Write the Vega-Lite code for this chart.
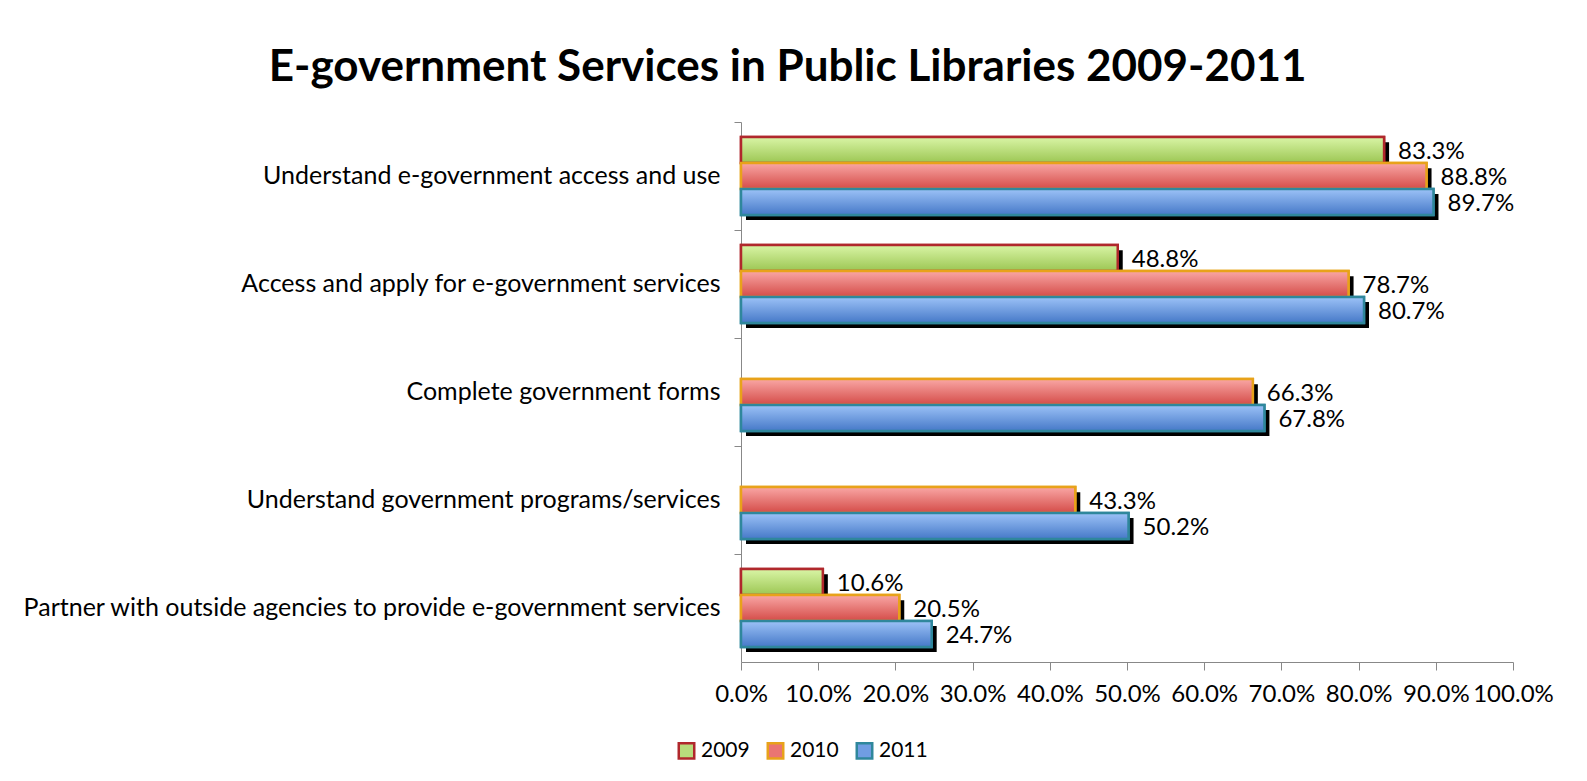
{
  "$schema": "https://vega.github.io/schema/vega-lite/v6.json",
  "autosize": {"type": "none"},
  "padding": {"left": 741, "top": 122, "right": 74, "bottom": 119},
  "width": 772,
  "height": 540,
  "background": "white",
  "title": {
    "text": "E-government Services in Public Libraries 2009-2011",
    "font": "Lato",
    "fontSize": 44,
    "fontWeight": "bold",
    "color": "#000000",
    "anchor": "middle",
    "frame": "bounds",
    "offset": 32
  },
  "data": {
    "values": [
      {"task": "Understand e-government access and use", "year": "2009", "pct": 0.833},
      {"task": "Understand e-government access and use", "year": "2010", "pct": 0.888},
      {"task": "Understand e-government access and use", "year": "2011", "pct": 0.897},
      {"task": "Access and apply for e-government services", "year": "2009", "pct": 0.488},
      {"task": "Access and apply for e-government services", "year": "2010", "pct": 0.787},
      {"task": "Access and apply for e-government services", "year": "2011", "pct": 0.807},
      {"task": "Complete government forms", "year": "2010", "pct": 0.663},
      {"task": "Complete government forms", "year": "2011", "pct": 0.678},
      {"task": "Understand government programs/services", "year": "2010", "pct": 0.433},
      {"task": "Understand government programs/services", "year": "2011", "pct": 0.502},
      {"task": "Partner with outside agencies to provide e-government services", "year": "2009", "pct": 0.106},
      {"task": "Partner with outside agencies to provide e-government services", "year": "2010", "pct": 0.205},
      {"task": "Partner with outside agencies to provide e-government services", "year": "2011", "pct": 0.247}
    ]
  },
  "encoding": {
    "y": {
      "field": "task",
      "type": "nominal",
      "sort": null,
      "title": null,
      "scale": {"paddingInner": 0, "paddingOuter": 0},
      "axis": {
        "bandPosition": 0,
        "labelFont": "Lato",
        "labelFontSize": 25,
        "labelColor": "#000000",
        "labelLimit": 900,
        "labelPadding": 14,
        "tickSize": 7,
        "tickColor": "#888888",
        "domainColor": "#888888",
        "labelBaseline": "middle"
      }
    },
    "x": {
      "field": "pct",
      "type": "quantitative",
      "title": null,
      "scale": {"domain": [0, 1], "nice": false},
      "axis": {
        "format": ".1%",
        "values": [0, 0.1, 0.2, 0.3, 0.4, 0.5, 0.6, 0.7, 0.8, 0.9, 1.0],
        "grid": false,
        "labelFont": "Lato",
        "labelFontSize": 24,
        "labelColor": "#000000",
        "labelPadding": 12,
        "tickSize": 8,
        "tickColor": "#888888",
        "domainColor": "#888888",
        "labelFlush": false,
        "labelOverlap": false
      }
    }
  },
  "layer": [
    {
      "mark": {"type": "bar", "color": "#000000", "xOffset": 5},
      "encoding": {
        "yOffset": {
          "field": "year",
          "type": "nominal",
          "scale": {"domain": ["2009", "2010", "2011"], "paddingInner": 0, "paddingOuter": 0.58, "align": 0.67}
        }
      }
    },
    {
      "layer": [
        {
          "mark": {"type": "bar", "strokeWidth": 2.5},
          "encoding": {
            "fill": {
              "field": "year",
              "type": "nominal",
              "title": null,
              "scale": {"domain": ["2009", "2010", "2011"], "range": ["#b8dc7c", "#ea7572", "#709de2"]},
              "legend": {
                "orient": "none",
                "direction": "horizontal",
                "legendX": -65,
                "legendY": 618,
                "symbolType": "square",
                "symbolSize": 240,
                "symbolStrokeWidth": 2.5,
                "symbolOpacity": 1,
                "labelFont": "Lato",
                "labelFontSize": 21,
                "labelColor": "#000000",
                "columnPadding": 12,
                "labelOffset": 4
              }
            },
            "stroke": {
              "field": "year",
              "type": "nominal",
              "title": null,
              "scale": {"domain": ["2009", "2010", "2011"], "range": ["#b0282c", "#e8a21a", "#2f879c"]}
            }
          }
        },
        {
          "mark": {"type": "bar", "strokeWidth": 2.5},
          "encoding": {
            "fill": {
              "condition": [
                {"test": "datum.year === '2009'", "value": {"gradient": "linear", "x1": 0, "y1": 0, "x2": 0, "y2": 1, "stops": [{"offset": 0, "color": "#d9f5a6"}, {"offset": 1, "color": "#9cc653"}]}},
                {"test": "datum.year === '2010'", "value": {"gradient": "linear", "x1": 0, "y1": 0, "x2": 0, "y2": 1, "stops": [{"offset": 0, "color": "#f9a7a5"}, {"offset": 1, "color": "#d44c48"}]}}
              ],
              "value": {"gradient": "linear", "x1": 0, "y1": 0, "x2": 0, "y2": 1, "stops": [{"offset": 0, "color": "#9cc2f7"}, {"offset": 1, "color": "#4679c8"}]}
            },
            "stroke": {"field": "year", "type": "nominal", "legend": null}
          }
        },
        {
          "mark": {"type": "text", "align": "left", "baseline": "middle", "dx": 14, "dy": 2, "font": "Lato", "fontSize": 24, "color": "#000000"},
          "encoding": {
            "text": {"field": "pct", "type": "quantitative", "format": ".1%"}
          }
        }
      ],
      "encoding": {
        "yOffset": {
          "field": "year",
          "type": "nominal",
          "scale": {"domain": ["2009", "2010", "2011"], "paddingInner": 0, "paddingOuter": 0.58}
        }
      }
    }
  ],
  "resolve": {"scale": {"yOffset": "independent"}},
  "config": {
    "view": {"stroke": null}
  }
}
